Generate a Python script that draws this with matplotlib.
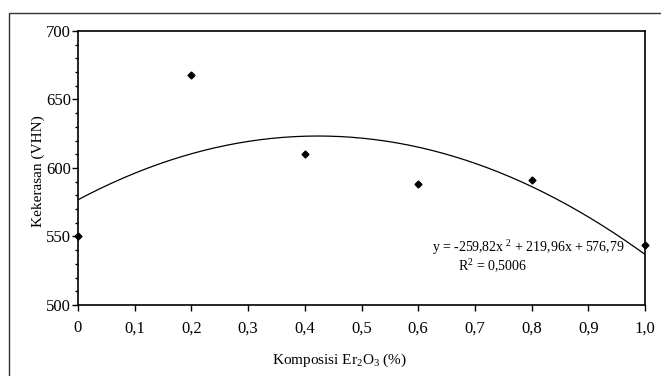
import matplotlib.pyplot as plt
import numpy as np
from matplotlib.patches import Rectangle
from matplotlib.ticker import MultipleLocator

plt.rcParams['font.family'] = 'Liberation Serif'
plt.rcParams['mathtext.fontset'] = 'custom'
plt.rcParams['mathtext.rm'] = 'Liberation Serif'
plt.rcParams['mathtext.it'] = 'Liberation Serif:italic'

# data
komposisi = [0, 0.2, 0.4, 0.6, 0.8, 1.0]
kekerasan = [550, 668, 610, 588, 591, 544]
trend_coef = [-259.82, 219.96, 576.79]
xticks = [0, 0.1, 0.2, 0.3, 0.4, 0.5, 0.6, 0.7, 0.8, 0.9, 1.0]
xtick_labels = ['0', '0,1', '0,2', '0,3', '0,4', '0,5', '0,6', '0,7', '0,8', '0,9', '1,0']
yticks = [500, 550, 600, 650, 700]

fig = plt.figure(figsize=(6.61, 3.76), dpi=100)
ax = fig.add_axes([78/661, 1-305/376, (645-78)/661, (305-31)/376])

# outer border (cut off at right and bottom)
fig.patches.append(Rectangle((9/661, -0.05), 1.1, 1-13/376+0.05,
                             transform=fig.transFigure, fill=False,
                             edgecolor='#333333', lw=1))

xs = np.linspace(0, 1, 200)
ax.plot(xs, np.polyval(trend_coef, xs), color='black', lw=0.9)
ax.plot(komposisi, kekerasan, 'D', color='black', markersize=3.5, clip_on=False)

ax.set_xlim(0, 1)
ax.set_ylim(500, 700)
ax.set_xticks(xticks)
ax.set_xticklabels(xtick_labels)
ax.set_yticks(yticks)
ax.yaxis.set_minor_locator(MultipleLocator(10))
ax.tick_params(axis='both', labelsize=12, direction='out', length=4, width=1)
ax.tick_params(axis='y', which='minor', length=2, width=1)
ax.tick_params(axis='y', pad=1)
ax.tick_params(axis='x', pad=7)
for s in ax.spines.values():
    s.set_linewidth(1.2)

ax.set_ylabel('Kekerasan (VHN)', fontsize=11)
ax.yaxis.set_label_coords(-0.058, 0.49)
ax.set_xlabel(r'Komposisi Er$_2$O$_3$ (%)', fontsize=11)
ax.xaxis.set_label_coords((340-78)/567, -0.17)

ax.text(0.624, 0.21, 'y = -259,82x $^2$ + 219,96x + 576,79', transform=ax.transAxes,
        fontsize=10, va='center', ha='left')
ax.text(0.67, 0.14, r'R$^2$ = 0,5006', transform=ax.transAxes,
        fontsize=10, va='center', ha='left')

fig.savefig('out.png', dpi=100)
